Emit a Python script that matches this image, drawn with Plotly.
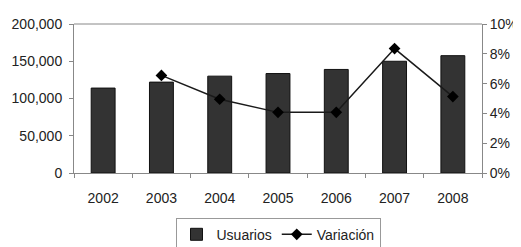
import plotly.graph_objects as go

years = ["2002", "2003", "2004", "2005", "2006", "2007", "2008"]
usuarios = [114000, 122000, 130000, 133500, 139000, 150000, 157500]
var_years = ["2003", "2004", "2005", "2006", "2007", "2008"]
variacion = [6.55, 4.95, 4.07, 4.07, 8.35, 5.13]
left_ticks = [0, 50000, 100000, 150000, 200000]
right_ticks = [0, 2, 4, 6, 8, 10]
right_labels = ["0%", "2%", "4%", "6%", "8%", "10%"]

font = dict(family="Liberation Sans, Arial, sans-serif", size=14, color="#222")

fig = go.Figure()
fig.add_trace(go.Bar(x=years, y=usuarios, name="Usuarios",
                     marker=dict(color="#333333", line=dict(color="#111", width=1))))
fig.add_trace(go.Scatter(x=var_years, y=variacion, name="Variación", yaxis="y2",
                         mode="lines+markers",
                         line=dict(color="#1a1a1a", width=1.5),
                         marker=dict(symbol="diamond", size=9, color="#000")))

# page body adds an 8px offset, so the figure is 8px smaller than the window
fig.update_layout(
    width=513, height=239,
    margin=dict(l=66, r=39, t=16, b=74, autoexpand=False),
    paper_bgcolor="white", plot_bgcolor="white",
    font=font,
    bargap=0.59,
    showlegend=True,
    legend=dict(orientation="h", x=0.5, xanchor="center", y=-0.30, yanchor="top",
                bordercolor="#999", borderwidth=1, font=font,
                itemwidth=30, tracegroupgap=0),
    xaxis=dict(type="category", showline=True, linecolor="#888", linewidth=1,
               ticks="outside", tickson="boundaries", ticklen=4, tickcolor="#888",
               showgrid=False, mirror=False, automargin=False, ticklabelstandoff=12),
    yaxis=dict(range=[0, 200000], tickvals=left_ticks,
               tickformat=",d", showline=True, linecolor="#888", ticks="outside",
               ticklen=4, tickcolor="#888", showgrid=False, zeroline=False,
               automargin=False, ticklabelstandoff=4),
    yaxis2=dict(range=[0, 10], tickvals=right_ticks, ticktext=right_labels,
                tickmode="array",
                overlaying="y", side="right", showline=True, linecolor="#888",
                ticks="outside", ticklen=4, tickcolor="#888", showgrid=False,
                zeroline=False, automargin=False),
    shapes=[dict(type="line", xref="paper", yref="paper", x0=0, x1=1, y0=1, y1=1,
                 line=dict(color="#888", width=1))],
)

fig.write_html("out.html")
